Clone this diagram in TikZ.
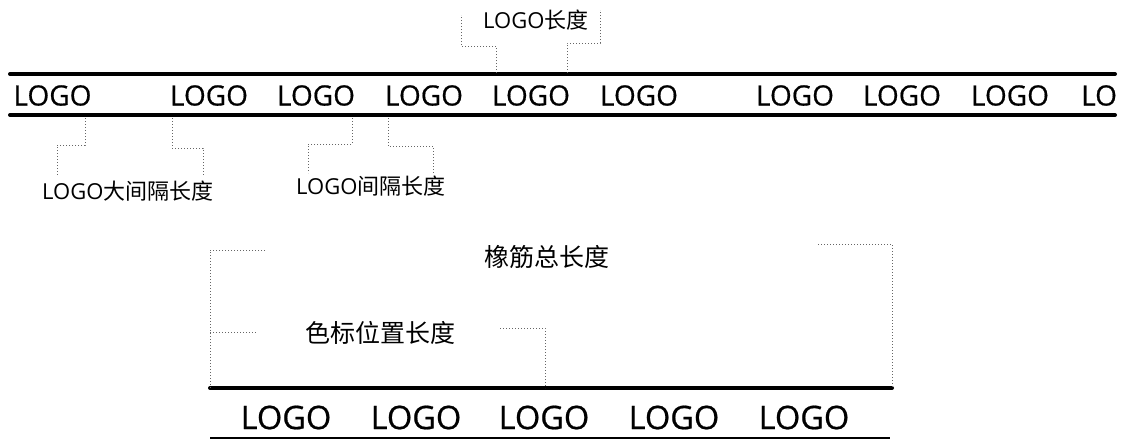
\documentclass[tikz,border=0pt]{standalone}
\usepackage{fontspec}
\setmainfont{Open Sans}
\newfontfamily\logofont{Open Sans}[FakeBold=0.6]
\newfontfamily\cjk{Noto Sans CJK SC}
\begin{document}
\begin{tikzpicture}[x=1pt,y=-1pt,
  logo/.style={inner sep=0pt, font=\fontsize{28}{28}\selectfont\logofont},
  biglogo/.style={inner sep=0pt, font=\fontsize{32.5}{32.5}\selectfont\logofont},
  lbl/.style={inner sep=0pt, anchor=base west, font=\fontsize{22}{22}\selectfont},
  cnlbl/.style={inner sep=0pt, font=\fontsize{25}{25}\selectfont\cjk},
  strip/.style={line width=4pt, line cap=round},
  thinstrip/.style={line width=2pt},
  guide/.style={dotted, line width=1pt, gray!80!black}]
\useasboundingbox (0,0) rectangle (1125,440);
% ---------- top strip ----------
\coordinate (tl) at (10,74);
\coordinate (tr) at (1115,74);
\coordinate (bl) at (10,115);
\coordinate (br) at (1115,115);
\draw[strip] (tl) -- (tr);
\draw[strip] (bl) -- (br);
\foreach \n/\x in {a/52.5,b/209,c/316,d/424,e/531,f/639,g/795,h/902,i/1010}
  \node[logo] (logo\n) at (\x,95.5) {LOGO};
\node[logo, anchor=west] (logoj) at (1081,95.5) {LO};
% ---------- labels ----------
\node[lbl] (lenlbl) at (483,28) {LOGO{\cjk 长度}};
\node[lbl] (biglbl) at (42,199) {LOGO{\cjk 大间隔长度}};
\node[lbl] (gaplbl) at (296,194) {LOGO{\cjk 间隔长度}};
% LOGO length brackets
\draw[guide] (496,73) -- (496,46) -- (461,46) -- (461,15);
\draw[guide] (567,73) -- (567,43) -- (600,43) -- (600,10);
% big gap brackets
\draw[guide] (85,118) -- (85,145) -- (57,145) -- (57,175);
\draw[guide] (172,118) -- (172,148) -- (203,148) -- (203,175);
% gap brackets
\draw[guide] (352,118) -- (352,144) -- (308,144) -- (308,173);
\draw[guide] (388,118) -- (388,146) -- (433,146) -- (433,173);
% ---------- bottom strip ----------
\coordinate (btl) at (210,388);
\coordinate (btr) at (892,388);
\draw[strip] (btl) -- (btr);
\draw[thinstrip] (210,438) -- (890,438);
\foreach \n/\x in {a/286,b/416,c/544,d/674,e/804}
  \node[biglogo] (blogo\n) at (\x,417.5) {LOGO};
\node[cnlbl] (total) at (547,257) {橡筋总长度};
\node[cnlbl] (mark) at (380,333) {色标位置长度};
\draw[guide] (265,250) -- (210,250) -- (btl);
\draw[guide] (210,332) -- (257,332);
\draw[guide] (500,328) -- (545,328) -- (545,388);
\draw[guide] (818,244) -- (892,244) -- (btr);
\end{tikzpicture}
\end{document}
